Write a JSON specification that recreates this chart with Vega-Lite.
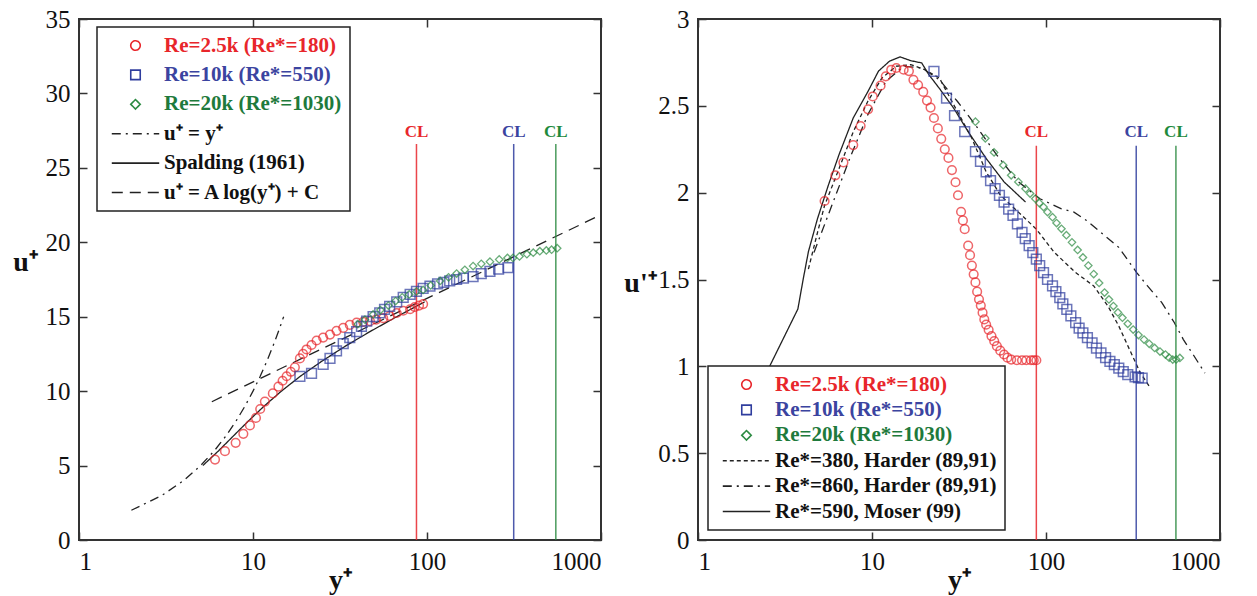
{
  "$schema": "https://vega.github.io/schema/vega-lite/v6.json",
  "background": "white",
  "padding": {"left": 11, "top": 6, "right": 5, "bottom": 0},
  "bounds": "flush",
  "spacing": 97,
  "config": {
    "font": "Liberation Serif",
    "view": {"stroke": "#333333", "strokeWidth": 2},
    "axis": {
      "labelFont": "Liberation Serif", "labelFontSize": 25, "labelColor": "#111111",
      "titleFont": "Liberation Serif", "titleFontSize": 28, "titleFontWeight": "bold", "titleColor": "#111111",
      "grid": false, "domain": false, "tickColor": "#333333", "tickSize": -8, "tickWidth": 1.5, "labelPadding": 17
    },
    "legend": {
      "labelFont": "Liberation Serif", "labelFontSize": 21, "labelFontWeight": "bold", "labelLimit": 400,
      "padding": 8, "strokeColor": "#222222", "fillColor": "#ffffff", "strokeWidth": 1.5,
      "symbolStrokeWidth": 1.6, "symbolSize": 90, "symbolOffset": 20, "labelOffset": 18, "symbolFillColor": "transparent"
    }
  },
  "resolve": {
    "scale": {"color": "independent", "shape": "independent", "strokeDash": "independent", "x": "independent", "y": "independent"},
    "legend": {"color": "independent", "shape": "independent", "strokeDash": "independent"}
  },
  "datasets": {
    "Lpts": [
      {"s": "Re=2.5k (Re*=180)", "x": 6.05, "y": 5.4}, {"s": "Re=2.5k (Re*=180)", "x": 6.9, "y": 5.97}, {"s": "Re=2.5k (Re*=180)", "x": 7.95, "y": 6.53},
      {"s": "Re=2.5k (Re*=180)", "x": 8.8, "y": 7.13}, {"s": "Re=2.5k (Re*=180)", "x": 9.6, "y": 7.7}, {"s": "Re=2.5k (Re*=180)", "x": 10.4, "y": 8.2},
      {"s": "Re=2.5k (Re*=180)", "x": 11.0, "y": 8.8}, {"s": "Re=2.5k (Re*=180)", "x": 11.7, "y": 9.3}, {"s": "Re=2.5k (Re*=180)", "x": 13.0, "y": 9.85},
      {"s": "Re=2.5k (Re*=180)", "x": 14.0, "y": 10.3}, {"s": "Re=2.5k (Re*=180)", "x": 14.8, "y": 10.7}, {"s": "Re=2.5k (Re*=180)", "x": 15.6, "y": 11.0},
      {"s": "Re=2.5k (Re*=180)", "x": 16.5, "y": 11.3}, {"s": "Re=2.5k (Re*=180)", "x": 17.4, "y": 11.6}, {"s": "Re=2.5k (Re*=180)", "x": 18.6, "y": 12.2},
      {"s": "Re=2.5k (Re*=180)", "x": 19.4, "y": 12.5}, {"s": "Re=2.5k (Re*=180)", "x": 20.3, "y": 12.8}, {"s": "Re=2.5k (Re*=180)", "x": 21.7, "y": 13.1},
      {"s": "Re=2.5k (Re*=180)", "x": 23.2, "y": 13.4}, {"s": "Re=2.5k (Re*=180)", "x": 25.3, "y": 13.6}, {"s": "Re=2.5k (Re*=180)", "x": 27.7, "y": 13.8},
      {"s": "Re=2.5k (Re*=180)", "x": 30.2, "y": 14.05}, {"s": "Re=2.5k (Re*=180)", "x": 33.0, "y": 14.25}, {"s": "Re=2.5k (Re*=180)", "x": 36.0, "y": 14.45},
      {"s": "Re=2.5k (Re*=180)", "x": 39.4, "y": 14.6}, {"s": "Re=2.5k (Re*=180)", "x": 43.0, "y": 14.65}, {"s": "Re=2.5k (Re*=180)", "x": 47.0, "y": 14.7},
      {"s": "Re=2.5k (Re*=180)", "x": 51.0, "y": 14.8}, {"s": "Re=2.5k (Re*=180)", "x": 56.0, "y": 14.9}, {"s": "Re=2.5k (Re*=180)", "x": 61.0, "y": 15.05},
      {"s": "Re=2.5k (Re*=180)", "x": 67.0, "y": 15.25}, {"s": "Re=2.5k (Re*=180)", "x": 73.0, "y": 15.4}, {"s": "Re=2.5k (Re*=180)", "x": 80.0, "y": 15.5},
      {"s": "Re=2.5k (Re*=180)", "x": 85.0, "y": 15.65}, {"s": "Re=2.5k (Re*=180)", "x": 90.0, "y": 15.75}, {"s": "Re=2.5k (Re*=180)", "x": 95.0, "y": 15.85},
      {"s": "Re=10k (Re*=550)", "x": 18.6, "y": 11.0}, {"s": "Re=10k (Re*=550)", "x": 21.7, "y": 11.2}, {"s": "Re=10k (Re*=550)", "x": 25.3, "y": 11.8},
      {"s": "Re=10k (Re*=550)", "x": 27.7, "y": 12.2}, {"s": "Re=10k (Re*=550)", "x": 30.2, "y": 12.7}, {"s": "Re=10k (Re*=550)", "x": 33.0, "y": 13.2},
      {"s": "Re=10k (Re*=550)", "x": 36.0, "y": 13.6}, {"s": "Re=10k (Re*=550)", "x": 39.4, "y": 14.0}, {"s": "Re=10k (Re*=550)", "x": 42.0, "y": 14.35},
      {"s": "Re=10k (Re*=550)", "x": 45.0, "y": 14.7}, {"s": "Re=10k (Re*=550)", "x": 49.0, "y": 15.0}, {"s": "Re=10k (Re*=550)", "x": 53.5, "y": 15.25},
      {"s": "Re=10k (Re*=550)", "x": 57.0, "y": 15.5}, {"s": "Re=10k (Re*=550)", "x": 61.0, "y": 15.7}, {"s": "Re=10k (Re*=550)", "x": 67.0, "y": 16.0},
      {"s": "Re=10k (Re*=550)", "x": 73.0, "y": 16.3}, {"s": "Re=10k (Re*=550)", "x": 80.0, "y": 16.5}, {"s": "Re=10k (Re*=550)", "x": 87.0, "y": 16.7},
      {"s": "Re=10k (Re*=550)", "x": 95.0, "y": 16.9}, {"s": "Re=10k (Re*=550)", "x": 104.0, "y": 17.05}, {"s": "Re=10k (Re*=550)", "x": 115.0, "y": 17.2},
      {"s": "Re=10k (Re*=550)", "x": 125.0, "y": 17.3}, {"s": "Re=10k (Re*=550)", "x": 135.0, "y": 17.4}, {"s": "Re=10k (Re*=550)", "x": 148.0, "y": 17.5},
      {"s": "Re=10k (Re*=550)", "x": 162.0, "y": 17.6}, {"s": "Re=10k (Re*=550)", "x": 184.0, "y": 17.7}, {"s": "Re=10k (Re*=550)", "x": 205.0, "y": 17.9},
      {"s": "Re=10k (Re*=550)", "x": 230.0, "y": 18.05}, {"s": "Re=10k (Re*=550)", "x": 258.0, "y": 18.2}, {"s": "Re=10k (Re*=550)", "x": 292.0, "y": 18.3},
      {"s": "Re=20k (Re*=1030)", "x": 40.0, "y": 14.5}, {"s": "Re=20k (Re*=1030)", "x": 44.0, "y": 14.8}, {"s": "Re=20k (Re*=1030)", "x": 49.0, "y": 15.15},
      {"s": "Re=20k (Re*=1030)", "x": 54.0, "y": 15.45}, {"s": "Re=20k (Re*=1030)", "x": 60.0, "y": 15.75}, {"s": "Re=20k (Re*=1030)", "x": 66.0, "y": 16.05},
      {"s": "Re=20k (Re*=1030)", "x": 72.0, "y": 16.3}, {"s": "Re=20k (Re*=1030)", "x": 79.0, "y": 16.5}, {"s": "Re=20k (Re*=1030)", "x": 87.0, "y": 16.7},
      {"s": "Re=20k (Re*=1030)", "x": 95.0, "y": 16.8}, {"s": "Re=20k (Re*=1030)", "x": 105.0, "y": 17.1}, {"s": "Re=20k (Re*=1030)", "x": 119.0, "y": 17.4},
      {"s": "Re=20k (Re*=1030)", "x": 133.0, "y": 17.65}, {"s": "Re=20k (Re*=1030)", "x": 148.0, "y": 17.9}, {"s": "Re=20k (Re*=1030)", "x": 165.0, "y": 18.15},
      {"s": "Re=20k (Re*=1030)", "x": 184.0, "y": 18.4}, {"s": "Re=20k (Re*=1030)", "x": 205.0, "y": 18.55}, {"s": "Re=20k (Re*=1030)", "x": 230.0, "y": 18.7},
      {"s": "Re=20k (Re*=1030)", "x": 260.0, "y": 18.85}, {"s": "Re=20k (Re*=1030)", "x": 290.0, "y": 18.95}, {"s": "Re=20k (Re*=1030)", "x": 312.0, "y": 18.95},
      {"s": "Re=20k (Re*=1030)", "x": 340.0, "y": 19.05}, {"s": "Re=20k (Re*=1030)", "x": 375.0, "y": 19.2}, {"s": "Re=20k (Re*=1030)", "x": 408.0, "y": 19.3},
      {"s": "Re=20k (Re*=1030)", "x": 445.0, "y": 19.4}, {"s": "Re=20k (Re*=1030)", "x": 485.0, "y": 19.45}, {"s": "Re=20k (Re*=1030)", "x": 520.0, "y": 19.5},
      {"s": "Re=20k (Re*=1030)", "x": 560.0, "y": 19.6}
    ],
    "Llines": [
      {"s": "u⁺ = y⁺", "x": 2, "y": 2}, {"s": "u⁺ = y⁺", "x": 3, "y": 3}, {"s": "u⁺ = y⁺", "x": 4, "y": 4}, {"s": "u⁺ = y⁺", "x": 5, "y": 5},
      {"s": "u⁺ = y⁺", "x": 6, "y": 6}, {"s": "u⁺ = y⁺", "x": 7, "y": 7}, {"s": "u⁺ = y⁺", "x": 8, "y": 8}, {"s": "u⁺ = y⁺", "x": 9, "y": 9},
      {"s": "u⁺ = y⁺", "x": 10, "y": 10}, {"s": "u⁺ = y⁺", "x": 11, "y": 11}, {"s": "u⁺ = y⁺", "x": 12, "y": 12}, {"s": "u⁺ = y⁺", "x": 13, "y": 13},
      {"s": "u⁺ = y⁺", "x": 14, "y": 14}, {"s": "u⁺ = y⁺", "x": 15, "y": 15},
      {"s": "Spalding (1961)", "x": 5.15, "y": 5}, {"s": "Spalding (1961)", "x": 6.35, "y": 6}, {"s": "Spalding (1961)", "x": 7.73, "y": 7},
      {"s": "Spalding (1961)", "x": 9.42, "y": 8}, {"s": "Spalding (1961)", "x": 11.6, "y": 9}, {"s": "Spalding (1961)", "x": 14.55, "y": 10},
      {"s": "Spalding (1961)", "x": 18.7, "y": 11}, {"s": "Spalding (1961)", "x": 24.8, "y": 12}, {"s": "Spalding (1961)", "x": 33.7, "y": 13},
      {"s": "Spalding (1961)", "x": 47.0, "y": 14}, {"s": "Spalding (1961)", "x": 67.0, "y": 15}, {"s": "Spalding (1961)", "x": 97.0, "y": 16},
      {"s": "u⁺ = A log(y⁺) + C", "x": 5.8, "y": 9.29}, {"s": "u⁺ = A log(y⁺) + C", "x": 30, "y": 13.3}, {"s": "u⁺ = A log(y⁺) + C", "x": 1000, "y": 21.85}
    ],
    "Lcl": [
      {"s": "Re=2.5k (Re*=180)", "x": 87, "y0": 0, "y1": 26.6, "yt": 27.4},
      {"s": "Re=10k (Re*=550)", "x": 315, "y0": 0, "y1": 26.6, "yt": 27.4},
      {"s": "Re=20k (Re*=1030)", "x": 550, "y0": 0, "y1": 26.6, "yt": 27.4}
    ],
    "Rpts": [
      {"s": "Re=2.5k (Re*=180)", "x": 5.34, "y": 1.952}, {"s": "Re=2.5k (Re*=180)", "x": 6.16, "y": 2.1}, {"s": "Re=2.5k (Re*=180)", "x": 6.85, "y": 2.174},
      {"s": "Re=2.5k (Re*=180)", "x": 7.8, "y": 2.274}, {"s": "Re=2.5k (Re*=180)", "x": 8.6, "y": 2.384}, {"s": "Re=2.5k (Re*=180)", "x": 9.5, "y": 2.48},
      {"s": "Re=2.5k (Re*=180)", "x": 10.1, "y": 2.554}, {"s": "Re=2.5k (Re*=180)", "x": 11.2, "y": 2.616}, {"s": "Re=2.5k (Re*=180)", "x": 12.0, "y": 2.67},
      {"s": "Re=2.5k (Re*=180)", "x": 12.9, "y": 2.708}, {"s": "Re=2.5k (Re*=180)", "x": 13.8, "y": 2.718}, {"s": "Re=2.5k (Re*=180)", "x": 15.2, "y": 2.708},
      {"s": "Re=2.5k (Re*=180)", "x": 16.3, "y": 2.7}, {"s": "Re=2.5k (Re*=180)", "x": 17.3, "y": 2.65}, {"s": "Re=2.5k (Re*=180)", "x": 18.4, "y": 2.62},
      {"s": "Re=2.5k (Re*=180)", "x": 19.7, "y": 2.58}, {"s": "Re=2.5k (Re*=180)", "x": 20.7, "y": 2.53}, {"s": "Re=2.5k (Re*=180)", "x": 21.7, "y": 2.49},
      {"s": "Re=2.5k (Re*=180)", "x": 22.7, "y": 2.43}, {"s": "Re=2.5k (Re*=180)", "x": 23.9, "y": 2.37}, {"s": "Re=2.5k (Re*=180)", "x": 25.0, "y": 2.31},
      {"s": "Re=2.5k (Re*=180)", "x": 26.2, "y": 2.25}, {"s": "Re=2.5k (Re*=180)", "x": 27.5, "y": 2.2}, {"s": "Re=2.5k (Re*=180)", "x": 28.8, "y": 2.13},
      {"s": "Re=2.5k (Re*=180)", "x": 30.2, "y": 2.06}, {"s": "Re=2.5k (Re*=180)", "x": 31.2, "y": 1.985}, {"s": "Re=2.5k (Re*=180)", "x": 32.5, "y": 1.89},
      {"s": "Re=2.5k (Re*=180)", "x": 33.3, "y": 1.84}, {"s": "Re=2.5k (Re*=180)", "x": 34.1, "y": 1.79}, {"s": "Re=2.5k (Re*=180)", "x": 35.7, "y": 1.695},
      {"s": "Re=2.5k (Re*=180)", "x": 36.6, "y": 1.64}, {"s": "Re=2.5k (Re*=180)", "x": 37.5, "y": 1.58}, {"s": "Re=2.5k (Re*=180)", "x": 38.4, "y": 1.53},
      {"s": "Re=2.5k (Re*=180)", "x": 39.3, "y": 1.483}, {"s": "Re=2.5k (Re*=180)", "x": 40.2, "y": 1.43}, {"s": "Re=2.5k (Re*=180)", "x": 41.2, "y": 1.386},
      {"s": "Re=2.5k (Re*=180)", "x": 42.2, "y": 1.35}, {"s": "Re=2.5k (Re*=180)", "x": 43.2, "y": 1.309}, {"s": "Re=2.5k (Re*=180)", "x": 44.2, "y": 1.27},
      {"s": "Re=2.5k (Re*=180)", "x": 45.3, "y": 1.24}, {"s": "Re=2.5k (Re*=180)", "x": 46.8, "y": 1.21}, {"s": "Re=2.5k (Re*=180)", "x": 48.6, "y": 1.174},
      {"s": "Re=2.5k (Re*=180)", "x": 50.4, "y": 1.145}, {"s": "Re=2.5k (Re*=180)", "x": 52.2, "y": 1.116}, {"s": "Re=2.5k (Re*=180)", "x": 54.6, "y": 1.09},
      {"s": "Re=2.5k (Re*=180)", "x": 57.4, "y": 1.068}, {"s": "Re=2.5k (Re*=180)", "x": 60.0, "y": 1.05}, {"s": "Re=2.5k (Re*=180)", "x": 63.1, "y": 1.039},
      {"s": "Re=2.5k (Re*=180)", "x": 68.0, "y": 1.035}, {"s": "Re=2.5k (Re*=180)", "x": 72.8, "y": 1.035}, {"s": "Re=2.5k (Re*=180)", "x": 77.0, "y": 1.035},
      {"s": "Re=2.5k (Re*=180)", "x": 82.0, "y": 1.035}, {"s": "Re=2.5k (Re*=180)", "x": 85.0, "y": 1.035}, {"s": "Re=2.5k (Re*=180)", "x": 88.0, "y": 1.035},
      {"s": "Re=10k (Re*=550)", "x": 22.7, "y": 2.699}, {"s": "Re=10k (Re*=550)", "x": 26.8, "y": 2.544}, {"s": "Re=10k (Re*=550)", "x": 29.8, "y": 2.444},
      {"s": "Re=10k (Re*=550)", "x": 34.1, "y": 2.351}, {"s": "Re=10k (Re*=550)", "x": 39.3, "y": 2.236}, {"s": "Re=10k (Re*=550)", "x": 42.0, "y": 2.18},
      {"s": "Re=10k (Re*=550)", "x": 45.3, "y": 2.12}, {"s": "Re=10k (Re*=550)", "x": 48.0, "y": 2.07}, {"s": "Re=10k (Re*=550)", "x": 51.0, "y": 2.023},
      {"s": "Re=10k (Re*=550)", "x": 54.0, "y": 1.985}, {"s": "Re=10k (Re*=550)", "x": 57.4, "y": 1.946}, {"s": "Re=10k (Re*=550)", "x": 61.0, "y": 1.905},
      {"s": "Re=10k (Re*=550)", "x": 64.6, "y": 1.869}, {"s": "Re=10k (Re*=550)", "x": 68.5, "y": 1.82}, {"s": "Re=10k (Re*=550)", "x": 72.8, "y": 1.772},
      {"s": "Re=10k (Re*=550)", "x": 76.0, "y": 1.735}, {"s": "Re=10k (Re*=550)", "x": 80.0, "y": 1.695}, {"s": "Re=10k (Re*=550)", "x": 84.0, "y": 1.655},
      {"s": "Re=10k (Re*=550)", "x": 88.0, "y": 1.618}, {"s": "Re=10k (Re*=550)", "x": 92.0, "y": 1.58}, {"s": "Re=10k (Re*=550)", "x": 96.8, "y": 1.54},
      {"s": "Re=10k (Re*=550)", "x": 102.0, "y": 1.5}, {"s": "Re=10k (Re*=550)", "x": 109.0, "y": 1.463}, {"s": "Re=10k (Re*=550)", "x": 114.0, "y": 1.43},
      {"s": "Re=10k (Re*=550)", "x": 120.0, "y": 1.396}, {"s": "Re=10k (Re*=550)", "x": 125.0, "y": 1.36}, {"s": "Re=10k (Re*=550)", "x": 131.7, "y": 1.328},
      {"s": "Re=10k (Re*=550)", "x": 139.0, "y": 1.29}, {"s": "Re=10k (Re*=550)", "x": 148.0, "y": 1.251}, {"s": "Re=10k (Re*=550)", "x": 155.0, "y": 1.22},
      {"s": "Re=10k (Re*=550)", "x": 163.0, "y": 1.193}, {"s": "Re=10k (Re*=550)", "x": 173.0, "y": 1.165}, {"s": "Re=10k (Re*=550)", "x": 184.0, "y": 1.135},
      {"s": "Re=10k (Re*=550)", "x": 195.0, "y": 1.105}, {"s": "Re=10k (Re*=550)", "x": 207.0, "y": 1.077}, {"s": "Re=10k (Re*=550)", "x": 220.0, "y": 1.05},
      {"s": "Re=10k (Re*=550)", "x": 233.0, "y": 1.029}, {"s": "Re=10k (Re*=550)", "x": 247.0, "y": 1.01}, {"s": "Re=10k (Re*=550)", "x": 262.0, "y": 0.99},
      {"s": "Re=10k (Re*=550)", "x": 278.0, "y": 0.97}, {"s": "Re=10k (Re*=550)", "x": 295.0, "y": 0.952}, {"s": "Re=10k (Re*=550)", "x": 325.0, "y": 0.94},
      {"s": "Re=10k (Re*=550)", "x": 340.0, "y": 0.935}, {"s": "Re=10k (Re*=550)", "x": 357.0, "y": 0.932},
      {"s": "Re=20k (Re*=1030)", "x": 39.3, "y": 2.409}, {"s": "Re=20k (Re*=1030)", "x": 44.8, "y": 2.313}, {"s": "Re=20k (Re*=1030)", "x": 50.3, "y": 2.232},
      {"s": "Re=20k (Re*=1030)", "x": 56.8, "y": 2.158}, {"s": "Re=20k (Re*=1030)", "x": 63.1, "y": 2.1}, {"s": "Re=20k (Re*=1030)", "x": 69.4, "y": 2.062},
      {"s": "Re=20k (Re*=1030)", "x": 76.3, "y": 2.023}, {"s": "Re=20k (Re*=1030)", "x": 81.0, "y": 1.995}, {"s": "Re=20k (Re*=1030)", "x": 86.8, "y": 1.965},
      {"s": "Re=20k (Re*=1030)", "x": 91.5, "y": 1.94}, {"s": "Re=20k (Re*=1030)", "x": 96.8, "y": 1.917}, {"s": "Re=20k (Re*=1030)", "x": 102.0, "y": 1.888},
      {"s": "Re=20k (Re*=1030)", "x": 109.0, "y": 1.859}, {"s": "Re=20k (Re*=1030)", "x": 115.0, "y": 1.825}, {"s": "Re=20k (Re*=1030)", "x": 122.7, "y": 1.792},
      {"s": "Re=20k (Re*=1030)", "x": 131.0, "y": 1.755}, {"s": "Re=20k (Re*=1030)", "x": 141.0, "y": 1.714}, {"s": "Re=20k (Re*=1030)", "x": 152.0, "y": 1.67},
      {"s": "Re=20k (Re*=1030)", "x": 163.0, "y": 1.627}, {"s": "Re=20k (Re*=1030)", "x": 175.0, "y": 1.58}, {"s": "Re=20k (Re*=1030)", "x": 188.0, "y": 1.531},
      {"s": "Re=20k (Re*=1030)", "x": 202.0, "y": 1.48}, {"s": "Re=20k (Re*=1030)", "x": 217.0, "y": 1.425}, {"s": "Re=20k (Re*=1030)", "x": 230.0, "y": 1.385},
      {"s": "Re=20k (Re*=1030)", "x": 244.0, "y": 1.347}, {"s": "Re=20k (Re*=1030)", "x": 259.0, "y": 1.31}, {"s": "Re=20k (Re*=1030)", "x": 275.0, "y": 1.28},
      {"s": "Re=20k (Re*=1030)", "x": 295.0, "y": 1.245}, {"s": "Re=20k (Re*=1030)", "x": 317.0, "y": 1.212}, {"s": "Re=20k (Re*=1030)", "x": 340.0, "y": 1.18},
      {"s": "Re=20k (Re*=1030)", "x": 366.0, "y": 1.154}, {"s": "Re=20k (Re*=1030)", "x": 392.0, "y": 1.13}, {"s": "Re=20k (Re*=1030)", "x": 421.0, "y": 1.106},
      {"s": "Re=20k (Re*=1030)", "x": 452.0, "y": 1.085}, {"s": "Re=20k (Re*=1030)", "x": 486.0, "y": 1.068}, {"s": "Re=20k (Re*=1030)", "x": 510.0, "y": 1.05},
      {"s": "Re=20k (Re*=1030)", "x": 535.0, "y": 1.039}, {"s": "Re=20k (Re*=1030)", "x": 560.0, "y": 1.04}, {"s": "Re=20k (Re*=1030)", "x": 588.0, "y": 1.048}
    ],
    "Rlines": [
      {"s": "Re*=380, Harder (89,91)", "x": 4.31, "y": 1.56}, {"s": "Re*=380, Harder (89,91)", "x": 4.86, "y": 1.77}, {"s": "Re*=380, Harder (89,91)", "x": 5.34, "y": 1.927},
      {"s": "Re*=380, Harder (89,91)", "x": 6.47, "y": 2.139}, {"s": "Re*=380, Harder (89,91)", "x": 7.8, "y": 2.35}, {"s": "Re*=380, Harder (89,91)", "x": 9.45, "y": 2.525},
      {"s": "Re*=380, Harder (89,91)", "x": 11.4, "y": 2.66}, {"s": "Re*=380, Harder (89,91)", "x": 13.8, "y": 2.728}, {"s": "Re*=380, Harder (89,91)", "x": 16.7, "y": 2.737},
      {"s": "Re*=380, Harder (89,91)", "x": 20.2, "y": 2.708}, {"s": "Re*=380, Harder (89,91)", "x": 24.4, "y": 2.66}, {"s": "Re*=380, Harder (89,91)", "x": 29.5, "y": 2.506},
      {"s": "Re*=380, Harder (89,91)", "x": 37.5, "y": 2.313}, {"s": "Re*=380, Harder (89,91)", "x": 45.3, "y": 2.12}, {"s": "Re*=380, Harder (89,91)", "x": 54.7, "y": 1.985},
      {"s": "Re*=380, Harder (89,91)", "x": 69.4, "y": 1.888}, {"s": "Re*=380, Harder (89,91)", "x": 88.0, "y": 1.79}, {"s": "Re*=380, Harder (89,91)", "x": 111.6, "y": 1.656},
      {"s": "Re*=380, Harder (89,91)", "x": 148.0, "y": 1.54}, {"s": "Re*=380, Harder (89,91)", "x": 188.0, "y": 1.463}, {"s": "Re*=380, Harder (89,91)", "x": 227.0, "y": 1.347},
      {"s": "Re*=380, Harder (89,91)", "x": 262.0, "y": 1.232}, {"s": "Re*=380, Harder (89,91)", "x": 302.0, "y": 1.097}, {"s": "Re*=380, Harder (89,91)", "x": 349.0, "y": 0.961},
      {"s": "Re*=380, Harder (89,91)", "x": 393.0, "y": 0.884},
      {"s": "Re*=860, Harder (89,91)", "x": 4.64, "y": 1.656}, {"s": "Re*=860, Harder (89,91)", "x": 5.88, "y": 1.927}, {"s": "Re*=860, Harder (89,91)", "x": 7.45, "y": 2.197},
      {"s": "Re*=860, Harder (89,91)", "x": 9.45, "y": 2.448}, {"s": "Re*=860, Harder (89,91)", "x": 12.0, "y": 2.64}, {"s": "Re*=860, Harder (89,91)", "x": 15.2, "y": 2.728},
      {"s": "Re*=860, Harder (89,91)", "x": 19.3, "y": 2.718}, {"s": "Re*=860, Harder (89,91)", "x": 24.4, "y": 2.65}, {"s": "Re*=860, Harder (89,91)", "x": 31.0, "y": 2.525},
      {"s": "Re*=860, Harder (89,91)", "x": 39.3, "y": 2.39}, {"s": "Re*=860, Harder (89,91)", "x": 52.2, "y": 2.216}, {"s": "Re*=860, Harder (89,91)", "x": 69.4, "y": 2.062},
      {"s": "Re*=860, Harder (89,91)", "x": 92.3, "y": 1.965}, {"s": "Re*=860, Harder (89,91)", "x": 122.7, "y": 1.907}, {"s": "Re*=860, Harder (89,91)", "x": 144.8, "y": 1.888},
      {"s": "Re*=860, Harder (89,91)", "x": 171.0, "y": 1.84}, {"s": "Re*=860, Harder (89,91)", "x": 217.0, "y": 1.753}, {"s": "Re*=860, Harder (89,91)", "x": 262.0, "y": 1.685},
      {"s": "Re*=860, Harder (89,91)", "x": 332.0, "y": 1.54}, {"s": "Re*=860, Harder (89,91)", "x": 383.0, "y": 1.463}, {"s": "Re*=860, Harder (89,91)", "x": 463.0, "y": 1.367},
      {"s": "Re*=860, Harder (89,91)", "x": 547.0, "y": 1.251}, {"s": "Re*=860, Harder (89,91)", "x": 616.0, "y": 1.154}, {"s": "Re*=860, Harder (89,91)", "x": 711.0, "y": 1.058},
      {"s": "Re*=860, Harder (89,91)", "x": 819.0, "y": 0.961},
      {"s": "Re*=590, Moser (99)", "x": 2.58, "y": 1.0}, {"s": "Re*=590, Moser (99)", "x": 3.75, "y": 1.33}, {"s": "Re*=590, Moser (99)", "x": 4.02, "y": 1.5},
      {"s": "Re*=590, Moser (99)", "x": 4.31, "y": 1.66}, {"s": "Re*=590, Moser (99)", "x": 4.86, "y": 1.85}, {"s": "Re*=590, Moser (99)", "x": 5.6, "y": 2.04},
      {"s": "Re*=590, Moser (99)", "x": 6.47, "y": 2.22}, {"s": "Re*=590, Moser (99)", "x": 7.8, "y": 2.43}, {"s": "Re*=590, Moser (99)", "x": 9.45, "y": 2.58},
      {"s": "Re*=590, Moser (99)", "x": 10.9, "y": 2.7}, {"s": "Re*=590, Moser (99)", "x": 12.6, "y": 2.757}, {"s": "Re*=590, Moser (99)", "x": 14.5, "y": 2.782},
      {"s": "Re*=590, Moser (99)", "x": 16.7, "y": 2.76}, {"s": "Re*=590, Moser (99)", "x": 19.3, "y": 2.747}, {"s": "Re*=590, Moser (99)", "x": 21.2, "y": 2.68},
      {"s": "Re*=590, Moser (99)", "x": 24.4, "y": 2.6}, {"s": "Re*=590, Moser (99)", "x": 29.5, "y": 2.486}, {"s": "Re*=590, Moser (99)", "x": 35.7, "y": 2.351},
      {"s": "Re*=590, Moser (99)", "x": 45.3, "y": 2.197}, {"s": "Re*=590, Moser (99)", "x": 57.4, "y": 2.062}, {"s": "Re*=590, Moser (99)", "x": 76.3, "y": 1.946}
    ],
    "Rcl": [
      {"s": "Re=2.5k (Re*=180)", "x": 88, "y0": 0, "y1": 2.27, "yt": 2.35},
      {"s": "Re=10k (Re*=550)", "x": 330, "y0": 0, "y1": 2.27, "yt": 2.35},
      {"s": "Re=20k (Re*=1030)", "x": 558, "y0": 0, "y1": 2.27, "yt": 2.35}
    ]
  },
  "hconcat": [
    {
      "width": 522, "height": 521,
      "resolve": {"axis": {"x": "independent", "y": "independent"}},
      "layer": [
        {
          "data": {"name": "Llines"},
          "mark": {"type": "line", "strokeWidth": 1.3},
          "encoding": {
            "x": {"field": "x", "type": "quantitative", "scale": {"type": "log", "domain": [1, 1000]},
                  "axis": {"values": [1, 10, 100, 1000], "format": "d", "title": "y⁺", "titlePadding": -8}},
            "y": {"field": "y", "type": "quantitative", "scale": {"domain": [0, 35]},
                  "axis": {"values": [0, 5, 10, 15, 20, 25, 30, 35], "title": "u⁺", "titleAngle": 0, "titleAlign": "center", "titleBaseline": "middle", "titleX": -54, "titleY": 243}},
            "color": {"field": "s", "type": "nominal",
                      "scale": {"domain": ["Re=2.5k (Re*=180)", "Re=10k (Re*=550)", "Re=20k (Re*=1030)", "u⁺ = y⁺", "Spalding (1961)", "u⁺ = A log(y⁺) + C"],
                                "range": ["#e8262b", "#2f3d9e", "#2a8a40", "#222222", "#222222", "#222222"]},
                      "legend": {"orient": "none", "legendX": 18, "legendY": 8, "title": null, "rowPadding": 7.4, "symbolFillColor": "transparent",
                                 "encode": {
                                   "symbols": {"update": {"fill": {"value": "transparent"}}},
                                   "labels": {"update": {"fill": {"signal": "datum.value == 'Re=2.5k (Re*=180)' ? '#e8262b' : datum.value == 'Re=10k (Re*=550)' ? '#3b44a0' : datum.value == 'Re=20k (Re*=1030)' ? '#1e7a3c' : '#111111'"}}}
                                 }}},
            "strokeDash": {"field": "s", "type": "nominal",
                           "scale": {"domain": ["Re=2.5k (Re*=180)", "Re=10k (Re*=550)", "Re=20k (Re*=1030)", "u⁺ = y⁺", "Spalding (1961)", "u⁺ = A log(y⁺) + C"],
                                     "range": [[1, 0], [1, 0], [1, 0], [9, 5, 2, 5], [1, 0], [11, 7]]}}
          }
        },
        {
          "data": {"name": "Lcl"},
          "mark": {"type": "rule", "strokeWidth": 1.5, "opacity": 0.85},
          "encoding": {
            "x": {"field": "x", "type": "quantitative", "axis": {"orient": "top", "labels": false, "title": null, "values": [1, 10, 100, 1000]}},
            "y": {"field": "y0", "type": "quantitative", "axis": {"orient": "right", "labels": false, "title": null, "values": [0, 5, 10, 15, 20, 25, 30, 35]}},
            "y2": {"field": "y1"},
            "color": {"field": "s", "type": "nominal", "legend": null}
          }
        },
        {
          "data": {"name": "Lcl"},
          "transform": [{"filter": "datum.s == 'Re=2.5k (Re*=180)'"}],
          "mark": {"type": "text", "font": "Liberation Serif", "fontSize": 17, "fontWeight": "bold", "baseline": "middle", "color": "#e8262b"},
          "encoding": {
            "x": {"field": "x", "type": "quantitative", "axis": null},
            "y": {"field": "yt", "type": "quantitative", "axis": null},
            "text": {"value": "CL"}
          }
        },
        {
          "data": {"name": "Lcl"},
          "transform": [{"filter": "datum.s == 'Re=10k (Re*=550)'"}],
          "mark": {"type": "text", "font": "Liberation Serif", "fontSize": 17, "fontWeight": "bold", "baseline": "middle", "color": "#3b44a0"},
          "encoding": {
            "x": {"field": "x", "type": "quantitative", "axis": null},
            "y": {"field": "yt", "type": "quantitative", "axis": null},
            "text": {"value": "CL"}
          }
        },
        {
          "data": {"name": "Lcl"},
          "transform": [{"filter": "datum.s == 'Re=20k (Re*=1030)'"}],
          "mark": {"type": "text", "font": "Liberation Serif", "fontSize": 17, "fontWeight": "bold", "baseline": "middle", "color": "#1e8a3c"},
          "encoding": {
            "x": {"field": "x", "type": "quantitative", "axis": null},
            "y": {"field": "yt", "type": "quantitative", "axis": null},
            "text": {"value": "CL"}
          }
        },
        {
          "data": {"name": "Lpts"},
          "transform": [{"filter": "datum.s == 'Re=2.5k (Re*=180)'"}],
          "mark": {"type": "point", "filled": false, "fill": "transparent", "strokeWidth": 1.5, "size": 75},
          "encoding": {
            "x": {"field": "x", "type": "quantitative", "axis": null},
            "y": {"field": "y", "type": "quantitative", "axis": null},
            "color": {"field": "s", "type": "nominal"},
            "shape": {"field": "s", "type": "nominal",
                      "scale": {"domain": ["Re=2.5k (Re*=180)", "Re=10k (Re*=550)", "Re=20k (Re*=1030)", "u⁺ = y⁺", "Spalding (1961)", "u⁺ = A log(y⁺) + C"],
                                "range": ["circle", "square", "diamond", "M-5,0H5", "M-5,0H5", "M-5,0H5"]}}
          }
        },
        {
          "data": {"name": "Lpts"},
          "transform": [{"filter": "datum.s == 'Re=10k (Re*=550)'"}],
          "mark": {"type": "point", "filled": false, "fill": "transparent", "strokeWidth": 1.5, "size": 95},
          "encoding": {
            "x": {"field": "x", "type": "quantitative", "axis": null},
            "y": {"field": "y", "type": "quantitative", "axis": null},
            "color": {"field": "s", "type": "nominal"},
            "shape": {"field": "s", "type": "nominal"}
          }
        },
        {
          "data": {"name": "Lpts"},
          "transform": [{"filter": "datum.s == 'Re=20k (Re*=1030)'"}],
          "mark": {"type": "point", "filled": false, "fill": "transparent", "strokeWidth": 1.3, "size": 55},
          "encoding": {
            "x": {"field": "x", "type": "quantitative", "axis": null},
            "y": {"field": "y", "type": "quantitative", "axis": null},
            "color": {"field": "s", "type": "nominal"},
            "shape": {"field": "s", "type": "nominal"}
          }
        }
      ]
    },
    {
      "width": 522, "height": 521,
      "resolve": {"axis": {"x": "independent", "y": "independent"}},
      "layer": [
        {
          "data": {"name": "Rlines"},
          "mark": {"type": "line", "strokeWidth": 1.3},
          "encoding": {
            "x": {"field": "x", "type": "quantitative", "scale": {"type": "log", "domain": [1, 1000]},
                  "axis": {"values": [1, 10, 100, 1000], "format": "d", "title": "y⁺", "titlePadding": -8}},
            "y": {"field": "y", "type": "quantitative", "scale": {"domain": [0, 3]},
                  "axis": {"values": [0, 0.5, 1, 1.5, 2, 2.5, 3], "format": "~g", "title": "u'⁺", "titleAngle": 0, "titleAlign": "center", "titleBaseline": "middle", "titleX": -58, "titleY": 264}},
            "color": {"field": "s", "type": "nominal",
                      "scale": {"domain": ["Re=2.5k (Re*=180)", "Re=10k (Re*=550)", "Re=20k (Re*=1030)", "Re*=380, Harder (89,91)", "Re*=860, Harder (89,91)", "Re*=590, Moser (99)"],
                                "range": ["#e8262b", "#2f3d9e", "#2a8a40", "#222222", "#222222", "#222222"]},
                      "legend": {"orient": "bottom-left", "offset": 10, "title": null, "rowPadding": 3.4, "symbolFillColor": "transparent",
                                 "encode": {
                                   "symbols": {"update": {"fill": {"value": "transparent"}}},
                                   "labels": {"update": {"fill": {"signal": "datum.value == 'Re=2.5k (Re*=180)' ? '#e8262b' : datum.value == 'Re=10k (Re*=550)' ? '#3b44a0' : datum.value == 'Re=20k (Re*=1030)' ? '#1e7a3c' : '#111111'"}}}
                                 }}},
            "strokeDash": {"field": "s", "type": "nominal",
                           "scale": {"domain": ["Re=2.5k (Re*=180)", "Re=10k (Re*=550)", "Re=20k (Re*=1030)", "Re*=380, Harder (89,91)", "Re*=860, Harder (89,91)", "Re*=590, Moser (99)"],
                                     "range": [[1, 0], [1, 0], [1, 0], [4, 3], [9, 5, 2, 5], [1, 0]]}}
          }
        },
        {
          "data": {"name": "Rcl"},
          "mark": {"type": "rule", "strokeWidth": 1.5, "opacity": 0.85},
          "encoding": {
            "x": {"field": "x", "type": "quantitative", "axis": {"orient": "top", "labels": false, "title": null, "values": [1, 10, 100, 1000]}},
            "y": {"field": "y0", "type": "quantitative", "axis": {"orient": "right", "labels": false, "title": null, "values": [0, 0.5, 1, 1.5, 2, 2.5, 3]}},
            "y2": {"field": "y1"},
            "color": {"field": "s", "type": "nominal", "legend": null}
          }
        },
        {
          "data": {"name": "Rcl"},
          "transform": [{"filter": "datum.s == 'Re=2.5k (Re*=180)'"}],
          "mark": {"type": "text", "font": "Liberation Serif", "fontSize": 17, "fontWeight": "bold", "baseline": "middle", "color": "#e8262b"},
          "encoding": {
            "x": {"field": "x", "type": "quantitative", "axis": null},
            "y": {"field": "yt", "type": "quantitative", "axis": null},
            "text": {"value": "CL"}
          }
        },
        {
          "data": {"name": "Rcl"},
          "transform": [{"filter": "datum.s == 'Re=10k (Re*=550)'"}],
          "mark": {"type": "text", "font": "Liberation Serif", "fontSize": 17, "fontWeight": "bold", "baseline": "middle", "color": "#3b44a0"},
          "encoding": {
            "x": {"field": "x", "type": "quantitative", "axis": null},
            "y": {"field": "yt", "type": "quantitative", "axis": null},
            "text": {"value": "CL"}
          }
        },
        {
          "data": {"name": "Rcl"},
          "transform": [{"filter": "datum.s == 'Re=20k (Re*=1030)'"}],
          "mark": {"type": "text", "font": "Liberation Serif", "fontSize": 17, "fontWeight": "bold", "baseline": "middle", "color": "#1e8a3c"},
          "encoding": {
            "x": {"field": "x", "type": "quantitative", "axis": null},
            "y": {"field": "yt", "type": "quantitative", "axis": null},
            "text": {"value": "CL"}
          }
        },
        {
          "data": {"name": "Rpts"},
          "transform": [{"filter": "datum.s == 'Re=2.5k (Re*=180)'"}],
          "mark": {"type": "point", "filled": false, "fill": "transparent", "strokeWidth": 1.5, "size": 75},
          "encoding": {
            "x": {"field": "x", "type": "quantitative", "axis": null},
            "y": {"field": "y", "type": "quantitative", "axis": null},
            "color": {"field": "s", "type": "nominal"},
            "shape": {"field": "s", "type": "nominal",
                      "scale": {"domain": ["Re=2.5k (Re*=180)", "Re=10k (Re*=550)", "Re=20k (Re*=1030)", "Re*=380, Harder (89,91)", "Re*=860, Harder (89,91)", "Re*=590, Moser (99)"],
                                "range": ["circle", "square", "diamond", "M-5,0H5", "M-5,0H5", "M-5,0H5"]}}
          }
        },
        {
          "data": {"name": "Rpts"},
          "transform": [{"filter": "datum.s == 'Re=10k (Re*=550)'"}],
          "mark": {"type": "point", "filled": false, "fill": "transparent", "strokeWidth": 1.5, "size": 95},
          "encoding": {
            "x": {"field": "x", "type": "quantitative", "axis": null},
            "y": {"field": "y", "type": "quantitative", "axis": null},
            "color": {"field": "s", "type": "nominal"},
            "shape": {"field": "s", "type": "nominal"}
          }
        },
        {
          "data": {"name": "Rpts"},
          "transform": [{"filter": "datum.s == 'Re=20k (Re*=1030)'"}],
          "mark": {"type": "point", "filled": false, "fill": "transparent", "strokeWidth": 1.3, "size": 55},
          "encoding": {
            "x": {"field": "x", "type": "quantitative", "axis": null},
            "y": {"field": "y", "type": "quantitative", "axis": null},
            "color": {"field": "s", "type": "nominal"},
            "shape": {"field": "s", "type": "nominal"}
          }
        }
      ]
    }
  ]
}
